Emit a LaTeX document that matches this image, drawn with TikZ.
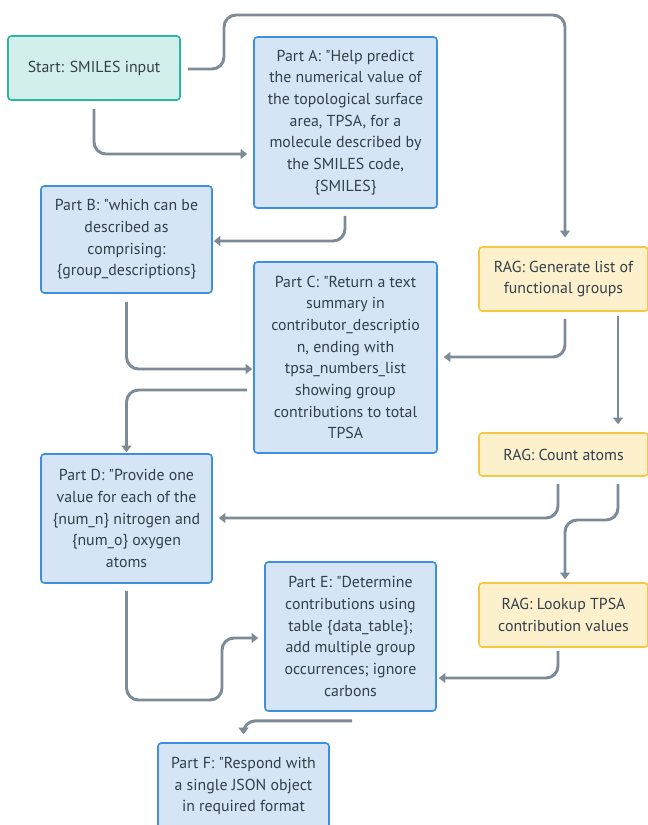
\documentclass[tikz,border=0pt]{standalone}
\usepackage{fontspec}
\setmainfont{PT Sans}[Ligatures=TeXOff]
\usetikzlibrary{arrows.meta,calc}
\definecolor{tealfill}{HTML}{D2EFEC}
\definecolor{tealline}{HTML}{2BB5A2}
\definecolor{bluefill}{HTML}{D5E5F5}
\definecolor{blueline}{HTML}{3D8FE0}
\definecolor{yelfill}{HTML}{FDF1CD}
\definecolor{yelline}{HTML}{F5C844}
\definecolor{conncol}{HTML}{7D8B98}
\definecolor{txt}{HTML}{343F4A}
\begin{document}
\begin{tikzpicture}[x=0.75pt,y=-0.75pt,
 box/.style={draw, line width=1.2pt, rounded corners=2.5pt, align=center, inner sep=0pt, text=txt, font=\fontsize{11.9}{16.25}\selectfont},
 startbox/.style={box, fill=tealfill, draw=tealline},
 partbox/.style={box, fill=bluefill, draw=blueline},
 ragbox/.style={box, fill=yelfill, draw=yelline},
 conn/.style={draw=conncol, line width=2.2pt, rounded corners=9pt, -{Triangle[length=5pt,width=7.5pt]}}]
\useasboundingbox (0,0) rectangle (648,825);
\clip (0,0) rectangle (648,825);
\fill[white] (0,0) rectangle (648,825);

\node[startbox, minimum width=129pt, minimum height=48pt] (S) at (94,68) {Start: SMILES input};
\node[partbox, minimum width=137.25pt, minimum height=128.25pt] (A) at (345.5,122.5)
 {Part A: "Help predict\\the numerical value of\\the topological surface\\area, TPSA, for a\\molecule described by\\the SMILES code,\\\{SMILES\}};
\node[partbox, minimum width=128.25pt, minimum height=80.25pt] (B) at (126.5,239.5)
 {Part B: "which can be\\described as\\comprising:\\\{group\_descriptions\}};
\node[partbox, minimum width=137.25pt, minimum height=143.25pt] (C) at (345.5,357.5)
 {Part C: "Return a text\\summary in\\contributor\_descriptio\\n, ending with\\tpsa\_numbers\_list\\showing group\\contributions to total\\TPSA};
\node[ragbox, minimum width=126.75pt, minimum height=48pt] (R1) at (563.5,279)
 {RAG: Generate list of\\functional groups};
\node[ragbox, minimum width=126.75pt, minimum height=32.25pt] (R2) at (563.5,454.5)
 {RAG: Count atoms};
\node[partbox, minimum width=128.25pt, minimum height=96.75pt] (D) at (126.5,518.5)
 {Part D: "Provide one\\value for each of the\\\{num\_n\} nitrogen and\\\{num\_o\} oxygen\\atoms};
\node[partbox, minimum width=128.25pt, minimum height=111.75pt] (E) at (350.5,636.5)
 {Part E: "Determine\\contributions using\\table \{data\_table\};\\add multiple group\\occurrences; ignore\\carbons};
\node[ragbox, minimum width=126.75pt, minimum height=48pt] (R3) at (563.5,615)
 {RAG: Lookup TPSA\\contribution values};
\node[partbox, minimum width=128.25pt, minimum height=64.5pt] (F) at (243.5,786)
 {Part F: "Respond with\\a single JSON object\\in required format};

\draw[conn] ($(S.south)+(0,8)$) |- ($(A.west |- 0,154)+(-6,0)$);
\draw[conn] ($(S.east)+(7,1)$) -| (224,15) -| ($(R1.north -| 565,0)+(0,-9)$);
\draw[conn] ($(A.south -| 345,0)+(0,7)$) |- ($(B.east |- 0,241)+(1,0)$);
\draw[conn] ($(B.south)+(0,8)$) |- ($(C.west |- 0,369)+(-1,0)$);
\draw[conn] ($(C.west |- 0,390)+(-6,0)$) -| ($(D.north)+(0,-1)$);
\draw[conn] ($(R1.south -| 565,0)+(0,7)$) |- ($(C.east |- 0,357)+(6,0)$);
\draw[conn] ($(R1.south -| 618,0)+(0,4)$) -- ($(R2.north -| 618,0)+(0,-8)$);
\draw[conn] ($(R2.south -| 558,0)+(0,7)$) |- ($(D.east |- 0,518)+(6,0)$);
\draw[conn] ($(R2.south -| 618,0)+(0,7)$) -- (618,520) -| ($(R3.north -| 565,0)+(0,-3)$);
\draw[conn] ($(R3.south -| 558,0)+(0,3)$) |- ($(E.east |- 0,678)+(2,0)$);
\draw[conn] ($(D.south)+(0,7)$) |- (222,700) |- ($(E.west |- 0,638)+(-6,0)$);
\draw[conn] ($(E.south -| 352,0)+(0,9)$) -| ($(F.north)+(0,-8)$);
\end{tikzpicture}
\end{document}
